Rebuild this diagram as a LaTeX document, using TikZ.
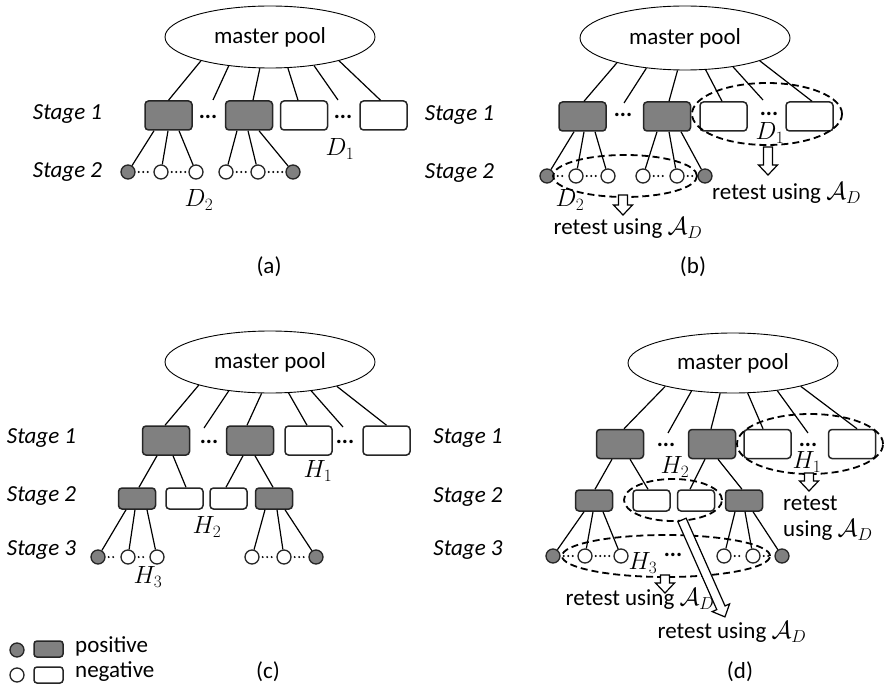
\documentclass[tikz,border=0pt]{standalone}
\usepackage{fontspec}
\setmainfont{Carlito}
\usetikzlibrary{shapes.geometric}
\tikzset{
 txt/.style={font=\fontsize{23}{27}\selectfont, inner sep=0pt},
 stg/.style={inner sep=0pt, font=\fontsize{23}{27}\selectfont\itshape},
 edots/.style={inner sep=0pt, font=\fontsize{23}{27}\selectfont\bfseries},
 pool/.style={ellipse, draw, line width=0.9pt, inner sep=0pt, minimum width=210pt, minimum height=62pt, font=\fontsize{23}{27}\selectfont},
 pbox/.style={rectangle, rounded corners=3.5pt, draw=black!85, line width=1.5pt, fill=black!50, minimum width=47pt, minimum height=29pt, inner sep=0pt},
 nbox/.style={pbox, fill=white},
 psm/.style={pbox, minimum width=37pt, minimum height=21pt},
 nsm/.style={psm, fill=white},
 pc/.style={circle, draw=black!85, line width=1.3pt, fill=black!50, minimum size=14pt, inner sep=0pt},
 nc/.style={pc, fill=white},
 ln/.style={line width=1.2pt},
 dts/.style={line width=2.2pt, line cap=round, dash pattern=on 0pt off 4.5pt, shorten >=3pt, shorten <=3pt},
 dell/.style={ellipse, draw, line width=1.8pt, dash pattern=on 7pt off 4pt, inner sep=0pt},
}
\newcommand\blockarrow[3]{\begin{scope}[shift={(#1)},rotate=#2]
\draw[line width=1.2pt, fill=white, line join=miter] (0,-4.5) -- ({#3-10},-4.5) -- ({#3-10},-9.5) -- (#3,0) -- ({#3-10},9.5) -- ({#3-10},4.5) -- (0,4.5) -- cycle;
\end{scope}}
\begin{document}
\begin{tikzpicture}[x=1pt,y=-1pt]
\useasboundingbox (0,0) rectangle (885,687);
% ================= (a)
\node[pool] (a-mp) at (270,37) {master pool};
\node[stg] (a-st1) at (67.5,114.5) {Stage 1};
\node[stg] (a-st2) at (67.5,172) {Stage 2};
\node[pbox] (a-b1) at (168.5,115.5) {};
\node[pbox] (a-b2) at (249,115.5) {};
\node[nbox] (a-b3) at (304,115.5) {};
\node[nbox] (a-b4) at (383.5,115.5) {};
\node[edots] (a-d1) at (208,117) {...};
\node[edots] (a-d2) at (343,117) {...};
\coordinate (a-f1) at (213,100);
\coordinate (a-f2) at (338,100);
\draw[ln] (a-mp.199) -- (a-b1.north);
\draw[ln] (a-mp.215) -- (a-f1);
\draw[ln] (a-mp.252) -- ([xshift=4pt]a-b2.north);
\draw[ln] (a-mp.300) -- ([xshift=-6pt]a-b3.north);
\draw[ln] (a-mp.327) -- (a-f2);
\draw[ln] (a-mp.341) -- ([xshift=-3pt]a-b4.north);
\node[pc] (a-c1) at (128,172) {};
\node[nc] (a-c2) at (161,172) {};
\node[nc] (a-c3) at (196,172) {};
\node[nc] (a-c4) at (226,172) {};
\node[nc] (a-c5) at (258,172) {};
\node[pc] (a-c6) at (293,172) {};
\draw[ln] ([xshift=-14.5pt]a-b1.south) -- (a-c1);
\draw[ln] ([xshift=-0.5pt]a-b1.south) -- (a-c2);
\draw[ln] ([xshift=10.5pt]a-b1.south) -- (a-c3);
\draw[ln] ([xshift=-12pt]a-b2.south) -- (a-c4);
\draw[ln] ([xshift=-1pt]a-b2.south) -- (a-c5);
\draw[ln] ([xshift=10pt]a-b2.south) -- (a-c6);
\draw[dts] (a-c1.east) -- (a-c2.west);
\draw[dts] (a-c2.east) -- (a-c3.west);
\draw[dts] (a-c4.east) -- (a-c5.west);
\draw[dts] (a-c5.east) -- (a-c6.west);
\node[txt] (a-D1) at (340,149) {$D_1$};
\node[txt] (a-D2) at (199,200) {$D_2$};
\node[txt] (a-lab) at (269,267) {(a)};
% ================= (b)
\node[pool, minimum height=64pt] (b-mp) at (685,38) {master pool};
\node[stg] (b-st1) at (459.5,115) {Stage 1};
\node[stg] (b-st2) at (459.5,173) {Stage 2};
\node[pbox] (b-b1) at (582.5,116.5) {};
\node[pbox] (b-b2) at (667,116.5) {};
\node[nbox] (b-b3) at (723.5,116.5) {};
\node[nbox] (b-b4) at (809.5,116.5) {};
\node[edots] (b-d1) at (623,115) {...};
\node[edots] (b-d2) at (769,114) {...};
\coordinate (b-f1) at (624,103);
\coordinate (b-f2) at (763,100);
\draw[ln] (b-mp.200) -- ([xshift=1.5pt]b-b1.north);
\draw[ln] (b-mp.218) -- (b-f1);
\draw[ln] (b-mp.257) -- ([xshift=2pt]b-b2.north);
\draw[ln] (b-mp.303) -- ([xshift=-1.5pt]b-b3.north);
\draw[ln] (b-mp.329) -- (b-f2);
\draw[ln] (b-mp.343) -- ([xshift=2.5pt]b-b4.north);
\node[dell, minimum width=150pt, minimum height=62pt] (b-e1) at (767,114) {};
\node[txt] (b-D1) at (770,133) {$D_1$};
\blockarrow{768,147}{-90}{28}
\node[txt, anchor=west] (b-r1) at (712,193) {retest using $\mathcal{A}_D$};
\node[pc] (b-c1) at (547,176) {};
\node[nc] (b-c2) at (576,176) {};
\node[nc] (b-c3) at (608,176) {};
\node[nc] (b-c4) at (643,176) {};
\node[nc] (b-c5) at (677,176) {};
\node[pc] (b-c6) at (705,176) {};
\draw[ln] ([xshift=-8.5pt]b-b1.south) -- (b-c1);
\draw[ln] ([xshift=1.5pt]b-b1.south) -- (b-c2);
\draw[ln] ([xshift=12.5pt]b-b1.south) -- (b-c3);
\draw[ln] ([xshift=-10pt]b-b2.south) -- (b-c4);
\draw[ln] ([xshift=2pt]b-b2.south) -- (b-c5);
\draw[ln] ([xshift=14pt]b-b2.south) -- (b-c6);
\draw[dts] (b-c1.east) -- (b-c2.west);
\draw[dts] (b-c2.east) -- (b-c3.west);
\draw[dts] (b-c4.east) -- (b-c5.west);
\draw[dts] (b-c5.east) -- (b-c6.west);
\node[dell, minimum width=144pt, minimum height=42pt] (b-e2) at (625,176) {};
\node[txt] (b-D2) at (570,200) {$D_2$};
\blockarrow{623,195}{-90}{20}
\node[txt] (b-r2) at (628,228) {retest using $\mathcal{A}_D$};
\node[txt] (b-lab) at (693,267) {(b)};
% ================= (c)
\node[pool] (c-mp) at (270,362) {master pool};
\node[stg] (c-st1) at (41.5,438) {Stage 1};
\node[stg] (c-st2) at (41.5,496) {Stage 2};
\node[stg] (c-st3) at (41.5,550) {Stage 3};
\node[pbox] (c-b1) at (166,440.5) {};
\node[pbox] (c-b2) at (250,440.5) {};
\node[nbox] (c-b3) at (308.5,440.5) {};
\node[nbox] (c-b4) at (386.5,440.5) {};
\node[edots] (c-d1) at (209,442) {...};
\node[edots] (c-d2) at (345,442) {...};
\coordinate (c-f1) at (204,428);
\coordinate (c-f2) at (343,427);
\draw[ln] (c-mp.198) -- ([xshift=-1pt]c-b1.north);
\draw[ln] (c-mp.215) -- (c-f1);
\draw[ln] (c-mp.255.5) -- ([xshift=-3pt]c-b2.north);
\draw[ln] (c-mp.301) -- ([xshift=-1.5pt]c-b3.north);
\draw[ln] (c-mp.325) -- (c-f2);
\draw[ln] (c-mp.340) -- (c-b4.north);
\node[txt] (c-H1) at (318,471) {$H_1$};
\node[psm] (c-s1) at (137,498.5) {};
\node[nsm] (c-s2) at (184.5,498.5) {};
\node[nsm] (c-s3) at (228.5,498.5) {};
\node[psm] (c-s4) at (274,498.5) {};
\draw[ln] ([xshift=-9pt]c-b1.south) -- ([xshift=2pt]c-s1.north);
\draw[ln] ([xshift=7pt]c-b1.south) -- ([xshift=1.5pt]c-s2.north);
\draw[ln] ([xshift=-7pt]c-b2.south) -- ([xshift=-2.5pt]c-s3.north);
\draw[ln] ([xshift=5pt]c-b2.south) -- ([xshift=-1pt]c-s4.north);
\node[txt] (c-H2) at (207,527) {$H_2$};
\node[pc] (c-c1) at (98,557) {};
\node[nc] (c-c2) at (128,557) {};
\node[nc] (c-c3) at (157,557) {};
\node[nc] (c-c4) at (252,557) {};
\node[nc] (c-c5) at (284,557) {};
\node[pc] (c-c6) at (316,557) {};
\draw[ln] ([xshift=-11pt]c-s1.south) -- (c-c1);
\draw[ln] ([xshift=-2pt]c-s1.south) -- (c-c2);
\draw[ln] ([xshift=10pt]c-s1.south) -- (c-c3);
\draw[ln] ([xshift=-9pt]c-s4.south) -- (c-c4);
\draw[ln] ([xshift=3pt]c-s4.south) -- (c-c5);
\draw[ln] ([xshift=11pt]c-s4.south) -- (c-c6);
\draw[dts] (c-c1.east) -- (c-c2.west);
\draw[dts] (c-c2.east) -- (c-c3.west);
\draw[dts] (c-c4.east) -- (c-c5.west);
\draw[dts] (c-c5.east) -- (c-c6.west);
\node[txt] (c-H3) at (148,577) {$H_3$};
\node[txt] (c-lab) at (268,672) {(c)};
% legend
\node[pc] (l-c1) at (17,650) {};
\node[nc] (l-c2) at (17,675) {};
\node[pbox, minimum width=29pt, minimum height=16pt, rounded corners=3pt] (l-b1) at (48.5,649) {};
\node[nbox, minimum width=29pt, minimum height=16pt, rounded corners=3pt] (l-b2) at (48.5,675) {};
\node[txt, anchor=west] (l-t1) at (75,646) {positive};
\node[txt, anchor=west] (l-t2) at (75,672) {negative};
% ================= (d)
\node[pool, minimum height=60pt] (d-mp) at (733,363) {master pool};
\node[stg] (d-st1) at (468,438) {Stage 1};
\node[stg] (d-st2) at (468,497) {Stage 2};
\node[stg] (d-st3) at (468,550) {Stage 3};
\node[pbox] (d-b1) at (620,444) {};
\node[pbox] (d-b2) at (712,444) {};
\node[nbox] (d-b3) at (767.5,444) {};
\node[nbox] (d-b4) at (852,444) {};
\node[edots] (d-d1) at (666,445) {...};
\node[edots] (d-d2) at (808,445) {...};
\coordinate (d-f1) at (668,433);
\coordinate (d-f2) at (808,433);
\draw[ln] (d-mp.199) -- ([xshift=4pt]d-b1.north);
\draw[ln] (d-mp.214) -- (d-f1);
\draw[ln] (d-mp.247) -- ([xshift=-1pt]d-b2.north);
\draw[ln] (d-mp.296) -- ([xshift=-4.5pt]d-b3.north);
\draw[ln] (d-mp.328) -- (d-f2);
\draw[ln] (d-mp.341) -- ([xshift=5pt]d-b4.north);
\node[dell, minimum width=146pt, minimum height=60pt] (d-e1) at (810,444) {};
\node[txt] (d-H1) at (807,462) {$H_1$};
\blockarrow{809,473}{-90}{18}
\node[txt, anchor=west] (d-r1a) at (783,503) {retest};
\node[txt, anchor=west] (d-r1b) at (783,530) {using $\mathcal{A}_D$};
\node[txt] (d-H2) at (675,467) {$H_2$};
\node[psm] (d-s1) at (594,500.5) {};
\node[nsm] (d-s2) at (651.5,500.5) {};
\node[nsm] (d-s3) at (696,500.5) {};
\node[psm] (d-s4) at (744,500.5) {};
\draw[ln] ([xshift=-8pt]d-b1.south) -- ([xshift=1pt]d-s1.north);
\draw[ln] ([xshift=10pt]d-b1.south) -- ([xshift=-3.5pt]d-s2.north);
\draw[ln] ([xshift=-7pt]d-b2.south) -- ([xshift=-6pt]d-s3.north);
\draw[ln] ([xshift=6pt]d-b2.south) -- ([xshift=-2pt]d-s4.north);
\node[dell, minimum width=98pt, minimum height=42pt] (d-e2) at (673,500) {};
\node[pc] (d-c1) at (553,556) {};
\node[nc] (d-c2) at (585,556) {};
\node[nc] (d-c3) at (621,556) {};
\node[nc] (d-c4) at (724,556) {};
\node[nc] (d-c5) at (753,556) {};
\node[pc] (d-c6) at (782,556) {};
\node[edots] (d-d3) at (673,555) {...};
\draw[ln] ([xshift=-10pt]d-s1.south) -- (d-c1);
\draw[ln] ([xshift=-1pt]d-s1.south) -- (d-c2);
\draw[ln] ([xshift=9pt]d-s1.south) -- (d-c3);
\draw[ln] ([xshift=-9pt]d-s4.south) -- (d-c4);
\draw[ln] ([xshift=1pt]d-s4.south) -- (d-c5);
\draw[ln] ([xshift=9pt]d-s4.south) -- (d-c6);
\draw[dts] (d-c1.east) -- (d-c2.west);
\draw[dts] (d-c2.east) -- (d-c3.west);
\draw[dts] (d-c4.east) -- (d-c5.west);
\draw[dts] (d-c5.east) -- (d-c6.west);
\node[dell, minimum width=208pt, minimum height=42pt] (d-e3) at (666,556) {};
\node[txt] (d-H3) at (643,563) {$H_3$};
\blockarrow{665,575}{-90}{18}
\node[txt] (d-r3) at (640,599) {retest using $\mathcal{A}_D$};
\blockarrow{682,520}{-66.1}{106}
\node[txt] (d-r2) at (732,632) {retest using $\mathcal{A}_D$};
\node[txt] (d-lab) at (740,672) {(d)};
\end{tikzpicture}
\end{document}
